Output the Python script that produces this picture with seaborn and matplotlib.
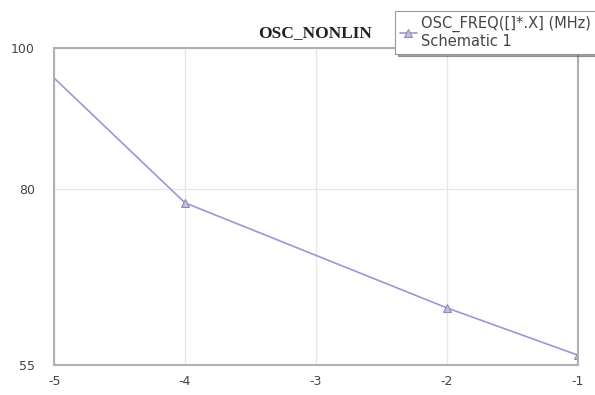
import pandas as pd
import seaborn as sns
import matplotlib.pyplot as plt

# sweep values
x_vals = [-5, -4, -2, -1]
freq = [95.7, 78.0, 63.1, 56.4]
x_ticks = [-5, -4, -3, -2, -1]
y_ticks = [55, 80, 100]

df = pd.DataFrame({'x': x_vals, 'freq': freq})

sns.set_style('white')
plt.rcParams['axes.unicode_minus'] = False
fig = plt.figure(figsize=(5.95, 3.95), dpi=100)
ax = fig.add_axes([0.091, 0.076, 0.880, 0.803])

line_color = '#9898d4'
sns.lineplot(data=df, x='x', y='freq', ax=ax, color=line_color, linewidth=1.2,
             marker='^', markersize=6, markeredgecolor='#8a8ab8',
             markerfacecolor='#c0c0dc', markevery=[1, 2, 3],
             label='OSC_FREQ([]*.X] (MHz)\nSchematic 1', legend=False)

ax.set_xlim(-5, -1)
ax.set_ylim(55, 100)
ax.set_xticks(x_ticks)
ax.set_yticks(y_ticks)
ax.grid(True, color='#e6e6e6', linewidth=0.9)
for s in ax.spines.values():
    s.set_color('#b0b0b0')
    s.set_linewidth(1.5)
ax.tick_params(length=0, labelsize=9, colors='#444444')
ax.tick_params(axis='y', pad=14)
ax.tick_params(axis='x', pad=7)
ax.set_xlabel('')
ax.set_ylabel('')

fig.text(0.53, 0.915, 'OSC_NONLIN', ha='center', va='center',
         fontsize=12.5, fontweight='bold', family='Liberation Serif', color='#222222')

h, l = ax.get_legend_handles_labels()
leg = fig.legend(h, l, loc='upper left', bbox_to_anchor=(0.652, 0.99),
                 fontsize=10.5, frameon=True, fancybox=False, shadow=True,
                 handlelength=1.2, handletextpad=0.3, borderpad=0.3,
                 labelspacing=0.2)
leg.get_frame().set_edgecolor('#999999')
leg.get_frame().set_linewidth(0.8)
for t in leg.get_texts():
    t.set_color('#444444')

fig.savefig('out.png', dpi=100)
